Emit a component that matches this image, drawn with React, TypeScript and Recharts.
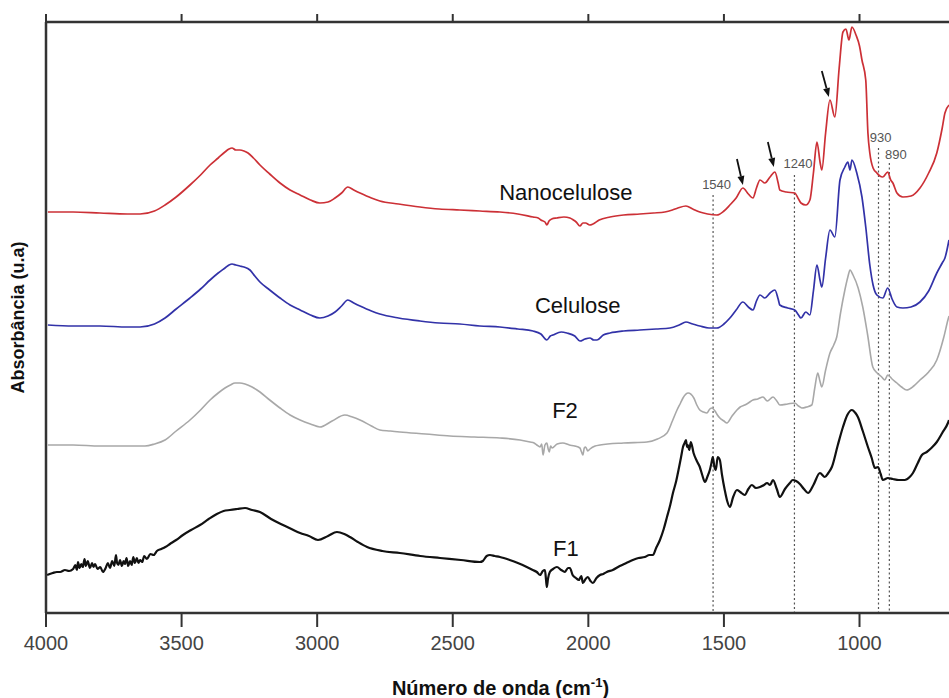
import React from 'react';
import { LineChart, Line, XAxis, YAxis, ReferenceLine, ReferenceDot } from 'recharts';

// wavenumber (cm-1), absorbance (a.u., offset stacked)
const nanoceluloseSpectrum: [number, number][] = [
  [3993,401],[3900,401],[3801,400],[3700,399],[3653,399],[3600,402],[3561,408],[3520,416],[3469,428],[3430,438],[3395,448],[3365,455],[3340,461],[3325,464],[3314,465],[3300,463],[3285,463],[3270,462],[3255,460],[3235,455],[3211,448],[3175,439],[3137,430],[3100,423],[3063,418],[3025,413],[2990,410],[2960,411],[2934,415],[2910,420],[2887,426],[2865,423],[2842,420],[2800,415],[2769,412],[2700,409],[2621,406],[2550,404],[2474,403],[2400,402],[2326,401],[2260,399],[2204,396],[2185,395],[2175,393],[2160,391],[2153,388],[2145,392],[2135,394],[2116,395],[2090,396],[2068,395],[2055,393],[2045,391],[2031,387],[2020,390],[2010,390],[1995,388],[1983,389],[1960,393],[1920,396],[1870,398],[1810,399],[1760,400],[1718,401],[1690,403],[1670,405],[1640,407],[1615,404],[1589,401],[1560,399],[1526,398],[1500,402],[1478,408],[1455,415],[1430,425],[1410,419],[1393,415],[1380,425],[1367,433],[1349,430],[1330,436],[1312,441],[1300,430],[1294,423],[1270,421],[1239,420],[1225,414],[1216,410],[1198,408],[1183,413],[1170,440],[1157,471],[1145,450],[1139,443],[1125,480],[1109,513],[1091,496],[1075,545],[1061,581],[1050,584],[1039,573],[1028,586],[1013,578],[1000,567],[991,553],[977,533],[969,480],[962,460],[950,445],[936,440],[925,437],[914,436],[896,441],[885,433],[877,430],[862,420],[840,416],[810,417],[777,425],[745,440],[715,460],[695,485],[685,500],[670,508]
];
const celuloseSpectrum: [number, number][] = [
  [3993,288],[3900,287],[3801,287],[3700,286],[3653,286],[3600,289],[3561,295],[3520,304],[3469,315],[3430,324],[3395,333],[3365,340],[3340,345],[3325,348],[3314,349],[3300,348],[3285,347],[3270,346],[3248,343],[3230,337],[3211,331],[3175,323],[3137,315],[3100,308],[3063,303],[3025,298],[2990,295],[2960,297],[2934,301],[2910,307],[2887,313],[2865,310],[2842,307],[2800,302],[2769,299],[2700,295],[2621,292],[2550,290],[2474,289],[2400,287],[2326,286],[2260,284],[2204,282],[2175,279],[2153,273],[2140,277],[2131,278],[2100,281],[2079,280],[2050,277],[2031,272],[2012,274],[1994,275],[1980,273],[1968,273],[1945,278],[1920,280],[1870,282],[1810,283],[1750,284],[1699,285],[1665,288],[1640,291],[1615,289],[1589,287],[1555,285],[1526,285],[1500,289],[1478,295],[1455,303],[1430,311],[1410,306],[1393,303],[1380,312],[1367,318],[1349,315],[1330,320],[1312,323],[1300,314],[1294,308],[1265,305],[1239,303],[1225,298],[1216,295],[1198,301],[1183,298],[1170,322],[1157,348],[1145,332],[1139,326],[1125,355],[1109,383],[1091,376],[1072,433],[1054,446],[1043,451],[1035,443],[1028,453],[1010,440],[991,416],[977,386],[962,348],[950,328],[936,318],[914,315],[896,325],[880,314],[862,306],[840,305],[810,306],[777,311],[745,322],[715,340],[695,350],[685,355],[670,373]
];
const f2Spectrum: [number, number][] = [
  [3993,168],[3900,168],[3801,167],[3700,167],[3635,167],[3600,169],[3561,173],[3520,182],[3469,193],[3430,203],[3395,213],[3365,220],[3340,225],[3320,228],[3303,230],[3285,230],[3266,229],[3240,226],[3211,221],[3175,213],[3137,205],[3100,198],[3063,193],[3025,189],[2990,186],[2945,192],[2898,198],[2870,196],[2842,193],[2800,187],[2769,183],[2730,182],[2695,181],[2600,179],[2510,177],[2420,176],[2326,175],[2252,173],[2215,171],[2200,170],[2190,168],[2178,166],[2172,169],[2167,158],[2160,168],[2153,170],[2148,164],[2144,161],[2139,167],[2134,165],[2115,169],[2094,170],[2070,168],[2050,167],[2031,165],[2025,161],[2020,158],[2015,165],[2010,166],[2002,162],[1994,164],[1975,167],[1957,168],[1870,170],[1784,171],[1745,174],[1710,180],[1690,192],[1673,203],[1660,210],[1651,215],[1632,220],[1611,215],[1600,208],[1589,203],[1575,201],[1563,200],[1552,204],[1544,205],[1533,202],[1524,198],[1515,195],[1500,192],[1489,190],[1470,197],[1452,203],[1440,206],[1423,208],[1410,210],[1393,213],[1375,214],[1356,216],[1340,212],[1319,216],[1305,212],[1294,208],[1265,209],[1239,210],[1225,207],[1213,205],[1195,206],[1176,208],[1165,225],[1154,240],[1146,232],[1139,226],[1125,243],[1109,260],[1095,268],[1084,276],[1070,300],[1054,323],[1043,336],[1035,343],[1024,338],[1005,325],[988,306],[970,278],[951,246],[935,240],[918,236],[907,233],[896,238],[880,234],[862,230],[845,226],[826,223],[800,227],[777,233],[745,241],[715,253],[690,275],[674,293],[670,297]
];
const f1Spectrum: [number, number][] = [
  [3996,38],[3975,40],[3960,41],[3948,41],[3930,43],[3915,42],[3900,44],[3892,48],[3886,43],[3882,51],[3876,45],[3870,49],[3864,46],[3858,54],[3853,47],[3846,52],[3838,45],[3830,50],[3825,46],[3819,49],[3810,44],[3800,46],[3790,41],[3780,45],[3772,50],[3764,45],[3756,52],[3748,47],[3742,58],[3738,50],[3733,48],[3727,53],[3720,47],[3714,52],[3709,49],[3703,55],[3697,47],[3690,52],[3684,48],[3678,56],[3672,50],[3665,55],[3659,50],[3653,53],[3645,51],[3638,57],[3628,54],[3615,59],[3603,58],[3591,62],[3575,64],[3560,66],[3543,69],[3520,73],[3495,78],[3465,83],[3432,88],[3400,94],[3370,99],[3345,102],[3322,103],[3295,104],[3266,105],[3240,103],[3211,101],[3170,94],[3126,88],[3095,84],[3063,80],[3030,77],[2997,73],[2960,77],[2927,81],[2900,79],[2879,76],[2850,71],[2816,66],[2760,62],[2695,60],[2620,57],[2547,55],[2470,53],[2400,51],[2389,52],[2375,57],[2363,58],[2345,57],[2326,56],[2290,53],[2260,50],[2227,46],[2205,43],[2190,41],[2178,38],[2168,42],[2160,43],[2156,33],[2153,26],[2149,34],[2142,41],[2130,44],[2116,46],[2100,43],[2087,41],[2075,45],[2068,45],[2058,38],[2046,35],[2035,33],[2026,37],[2020,30],[2010,34],[2002,36],[1992,32],[1983,30],[1970,35],[1957,38],[1945,39],[1932,41],[1910,43],[1884,47],[1860,50],[1836,53],[1815,55],[1792,56],[1775,58],[1762,58],[1750,65],[1736,73],[1722,84],[1710,96],[1698,108],[1688,120],[1676,132],[1666,145],[1658,156],[1651,166],[1645,170],[1640,173],[1636,166],[1633,168],[1628,163],[1622,171],[1612,160],[1600,152],[1589,146],[1580,138],[1570,131],[1560,137],[1552,143],[1546,150],[1541,156],[1535,146],[1530,143],[1523,156],[1515,153],[1507,138],[1497,123],[1488,112],[1478,106],[1466,116],[1452,123],[1440,121],[1423,118],[1410,124],[1397,128],[1382,125],[1367,126],[1352,128],[1341,130],[1330,128],[1319,133],[1305,124],[1294,116],[1275,124],[1257,130],[1246,133],[1234,132],[1220,129],[1205,124],[1190,120],[1170,128],[1146,140],[1128,136],[1115,140],[1102,146],[1080,168],[1061,186],[1045,198],[1028,203],[1015,200],[1006,196],[988,182],[969,166],[955,155],[943,145],[932,146],[922,139],[914,133],[895,135],[877,134],[855,133],[833,133],[815,136],[803,140],[785,150],[770,158],[752,161],[735,165],[715,171],[695,180],[674,190],[670,193]
];

const xTicks = [4000, 3500, 3000, 2500, 2000, 1500, 1000];
const bandMarks: { w: number; top: number; label: string; lw: number; lv: number }[] = [
  { w: 1540, top: 418, label: '1540', lw: 1527, lv: 429 },
  { w: 1240, top: 438, label: '1240', lw: 1227, lv: 450 },
  { w: 930, top: 465, label: '930', lw: 922, lv: 476 },
  { w: 890, top: 450, label: '890', lw: 866, lv: 459 },
];
const arrowMarks: [number, number, number, number][] = [
  [1452, 454, 1430, 428],
  [1338, 471, 1316, 446],
  [1139, 542, 1113, 516],
];
const seriesLabels: { text: string; w: number; v: number }[] = [
  { text: 'Nanocelulose', w: 2083, v: 421 },
  { text: 'Celulose', w: 2039, v: 308 },
  { text: 'F2', w: 2086, v: 203 },
  { text: 'F1', w: 2083, v: 65 },
];

const toRows = (arr: [number, number][]) => arr.map(([w, v]) => ({ w, v }));

const Arrow = (props: any) => {
  const { x1, y1, x2, y2 } = props;
  const dx = x2 - x1, dy = y2 - y1;
  const len = Math.sqrt(dx * dx + dy * dy) || 1;
  const ux = dx / len, uy = dy / len;
  const hl = 9, hw = 3.5;
  const bx = x2 - ux * hl, by = y2 - uy * hl;
  const pts = `${x2},${y2} ${bx - uy * hw},${by + ux * hw} ${bx + uy * hw},${by - ux * hw}`;
  return (
    <g>
      <line x1={x1} y1={y1} x2={bx} y2={by} stroke="#111" strokeWidth={1.8} />
      <polygon points={pts} fill="#111" />
    </g>
  );
};

const XTitle = (props: any) => {
  const vb = props.viewBox || {};
  const cx = vb.x + vb.width / 2 + 3;
  return (
    <text x={cx} y={695} textAnchor="middle" fontSize={20} fontWeight="bold" fill="#111" fontFamily="Liberation Sans Narrow, Arial Narrow, Liberation Sans, sans-serif">
      Número de onda (cm<tspan dy={-8} fontSize={13}>-1</tspan><tspan dy={8}>)</tspan>
    </text>
  );
};

const YTitle = (props: any) => {
  const vb = props.viewBox || {};
  const cy = vb.y + vb.height / 2;
  const x = 24;
  return (
    <text x={x} y={cy} transform={`rotate(-90 ${x} ${cy})`} textAnchor="middle" fontSize={18} fontWeight="bold" fill="#111" fontFamily="Liberation Sans, Arial, sans-serif">
      Absorbância (u.a)
    </text>
  );
};

export default function App() {
  const axisColor = '#333';
  return (
    <div style={{ position: 'absolute', left: 0, top: 0, background: '#fff' }}>
      <LineChart width={949} height={698} margin={{ top: 14, right: 0, bottom: 5, left: 0 }}
        style={{ fontFamily: 'Liberation Sans, Arial, sans-serif' }}>
        <XAxis xAxisId="bottom" dataKey="w" type="number" domain={[670, 4000]} reversed allowDataOverflow
          ticks={xTicks} interval={0} height={80} tickSize={14} tickMargin={9}
          axisLine={{ stroke: axisColor, strokeWidth: 2.5 }} tickLine={{ stroke: axisColor, strokeWidth: 2 }}
          tick={{ fill: '#444', fontSize: 20, fontFamily: 'Liberation Sans Narrow, Arial Narrow, Liberation Sans, sans-serif' }}
          label={<XTitle />} />
        <XAxis xAxisId="top" orientation="top" dataKey="w" type="number" domain={[670, 4000]} reversed allowDataOverflow
          ticks={xTicks} interval={0} height={8} tickSize={8}
          axisLine={{ stroke: axisColor, strokeWidth: 2.5 }} tickLine={{ stroke: axisColor, strokeWidth: 2 }}
          tickFormatter={() => ''} />
        <YAxis type="number" domain={[0, 591]} allowDataOverflow width={46} tick={false} tickLine={false}
          axisLine={{ stroke: axisColor, strokeWidth: 2.5 }} label={<YTitle />} />

        {bandMarks.map((b) => (
          <ReferenceLine key={'l' + b.label} xAxisId="bottom" ifOverflow="visible"
            segment={[{ x: b.w, y: b.top }, { x: b.w, y: 0 }]}
            stroke="#555" strokeWidth={1.2} strokeDasharray="2 2.5" />
        ))}

        <Line xAxisId="bottom" data={toRows(f1Spectrum)} dataKey="v" type="monotoneX" stroke="#111" strokeWidth={2.2} dot={false} isAnimationActive={false} />
        <Line xAxisId="bottom" data={toRows(f2Spectrum)} dataKey="v" type="monotoneX" stroke="#a8a8a8" strokeWidth={1.6} dot={false} isAnimationActive={false} />
        <Line xAxisId="bottom" data={toRows(celuloseSpectrum)} dataKey="v" type="monotoneX" stroke="#3232a8" strokeWidth={1.7} dot={false} isAnimationActive={false} />
        <Line xAxisId="bottom" data={toRows(nanoceluloseSpectrum)} dataKey="v" type="monotoneX" stroke="#cc3036" strokeWidth={1.7} dot={false} isAnimationActive={false} />

        {bandMarks.map((b) => (
          <ReferenceDot key={'t' + b.label} xAxisId="bottom" x={b.lw} y={b.lv} r={0} ifOverflow="visible"
            label={{ value: b.label, position: 'center', fontSize: 13, fill: '#555', fontFamily: 'Liberation Sans Narrow, Arial Narrow, Liberation Sans, sans-serif' }} />
        ))}
        {arrowMarks.map((a, i) => (
          <ReferenceLine key={'a' + i} xAxisId="bottom" ifOverflow="visible"
            segment={[{ x: a[0], y: a[1] }, { x: a[2], y: a[3] }]} shape={<Arrow />} />
        ))}
        {seriesLabels.map((s) => (
          <ReferenceDot key={s.text} xAxisId="bottom" x={s.w} y={s.v} r={0} ifOverflow="visible"
            label={{ value: s.text, position: 'center', fontSize: 22, fill: '#111', fontFamily: 'Liberation Sans, Arial, sans-serif' }} />
        ))}
      </LineChart>
    </div>
  );
}
